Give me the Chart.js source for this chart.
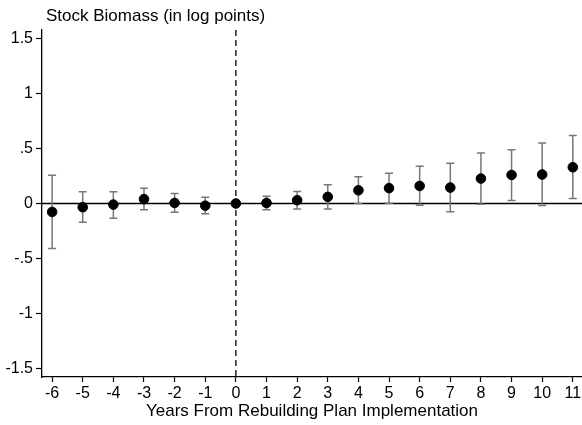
<!DOCTYPE html>
<html>
<head>
<meta charset="utf-8">
<script src="https://cdn.jsdelivr.net/npm/chart.js@4.4.1/dist/chart.umd.min.js"></script>
<style>
  html, body { margin: 0; padding: 0; background: #fff; }
  canvas { display: block; }
</style>
</head>
<body>
<canvas id="chart" width="582" height="425"></canvas>
<script>
/* ==========================
   DATA
========================== */
const years = [-6,-5,-4,-3,-2,-1,0,1,2,3,4,5,6,7,8,9,10,11];
const coef  = [-0.077,-0.034,-0.01,0.04,0.005,-0.02,0,0.005,0.03,0.06,0.12,0.14,0.16,0.145,0.227,0.26,0.264,0.33];
const upper = [0.257,0.107,0.107,0.14,0.09,0.058,null,0.065,0.11,0.17,0.243,0.275,0.34,0.366,0.46,0.49,0.55,0.62];
const lower = [-0.41,-0.17,-0.134,-0.057,-0.08,-0.093,null,-0.057,-0.05,-0.05,0.0,0.003,-0.015,-0.076,-0.006,0.027,-0.018,0.045];

const yTickValues = [-1.5,-1,-0.5,0,0.5,1,1.5];
const yTickLabels = ["-1.5","-1","-.5","0",".5","1","1.5"];

const chartTitle = "Stock Biomass (in log points)";
const xTitle = "Years From Rebuilding Plan Implementation";

const FONT = "'Liberation Sans', Arial, sans-serif";

/* ==========================
   PLUGIN: ref lines + error bars
========================== */
const errorBarPlugin = {
  id: "errorBars",
  beforeDatasetsDraw(chart) {
    const { ctx, chartArea, scales } = chart;
    const x = scales.x, y = scales.y;
    ctx.save();

    // zero line
    ctx.strokeStyle = "#000";
    ctx.lineWidth = 1.3;
    ctx.beginPath();
    ctx.moveTo(chartArea.left, y.getPixelForValue(0));
    ctx.lineTo(chartArea.right, y.getPixelForValue(0));
    ctx.stroke();

    // dashed line at event time
    ctx.setLineDash([6, 4]);
    ctx.beginPath();
    ctx.moveTo(x.getPixelForValue(0), chartArea.top);
    ctx.lineTo(x.getPixelForValue(0), chartArea.bottom);
    ctx.stroke();
    ctx.setLineDash([]);

    // confidence intervals
    ctx.strokeStyle = "#777";
    ctx.lineWidth = 1.5;
    years.forEach((yr, i) => {
      if (upper[i] == null) return;
      const px = x.getPixelForValue(yr);
      const top = y.getPixelForValue(upper[i]);
      const bot = y.getPixelForValue(lower[i]);
      ctx.beginPath();
      ctx.moveTo(px, top); ctx.lineTo(px, bot);
      ctx.moveTo(px - 4, top); ctx.lineTo(px + 4, top);
      ctx.moveTo(px - 4, bot); ctx.lineTo(px + 4, bot);
      ctx.stroke();
    });
    ctx.restore();
  },
  afterDraw(chart) {
    const { ctx, chartArea } = chart;
    ctx.save();
    ctx.fillStyle = "#000";
    ctx.font = "17px " + FONT;
    ctx.textBaseline = "middle";
    ctx.textAlign = "left";
    ctx.fillText(chartTitle, chartArea.left + 4, 16);
    ctx.restore();
  }
};

/* ==========================
   CHART
========================== */
new Chart(document.getElementById("chart"), {
  type: "scatter",
  data: {
    datasets: [{
      data: years.map((yr, i) => ({ x: yr, y: coef[i] })),
      backgroundColor: "#000",
      borderColor: "#000",
      pointRadius: 4.8,
      pointHoverRadius: 4.8
    }]
  },
  options: {
    responsive: false,
    animation: false,
    layout: { autoPadding: false, padding: { top: 30, right: 0, left: 0, bottom: 0 } },
    plugins: {
      legend: { display: false },
      tooltip: { enabled: false }
    },
    scales: {
      x: {
        type: "linear",
        min: -6.33,
        max: 11.3,
        afterBuildTicks: s => { s.ticks = years.map(v => ({ value: v })); },
        afterFit: s => { s.height = 48; s.paddingLeft = 0; s.paddingRight = 0; },
        ticks: {
          color: "#000",
          font: { family: FONT, size: 16 },
          padding: 2,
          maxRotation: 0,
          autoSkip: false,
          callback: v => String(v)
        },
        grid: { drawOnChartArea: false, tickLength: 5, tickColor: "#000", tickWidth: 1.2 },
        border: { color: "#000", width: 1.3 },
        title: {
          display: true,
          text: xTitle,
          color: "#000",
          font: { family: FONT, size: 17 },
          padding: { top: 0, bottom: 3 }
        }
      },
      y: {
        min: -1.58,
        max: 1.58,
        afterBuildTicks: s => { s.ticks = yTickValues.map(v => ({ value: v })); },
        afterFit: s => { s.width = 42; s.paddingTop = 0; s.paddingBottom = 0; },
        ticks: {
          color: "#000",
          font: { family: FONT, size: 16 },
          padding: 3,
          autoSkip: false,
          callback: v => yTickLabels[yTickValues.indexOf(v)]
        },
        grid: { drawOnChartArea: false, tickLength: 6, tickColor: "#000", tickWidth: 1.2 },
        border: { color: "#000", width: 1.3 }
      }
    }
  },
  plugins: [errorBarPlugin]
});
</script>
</body>
</html>
